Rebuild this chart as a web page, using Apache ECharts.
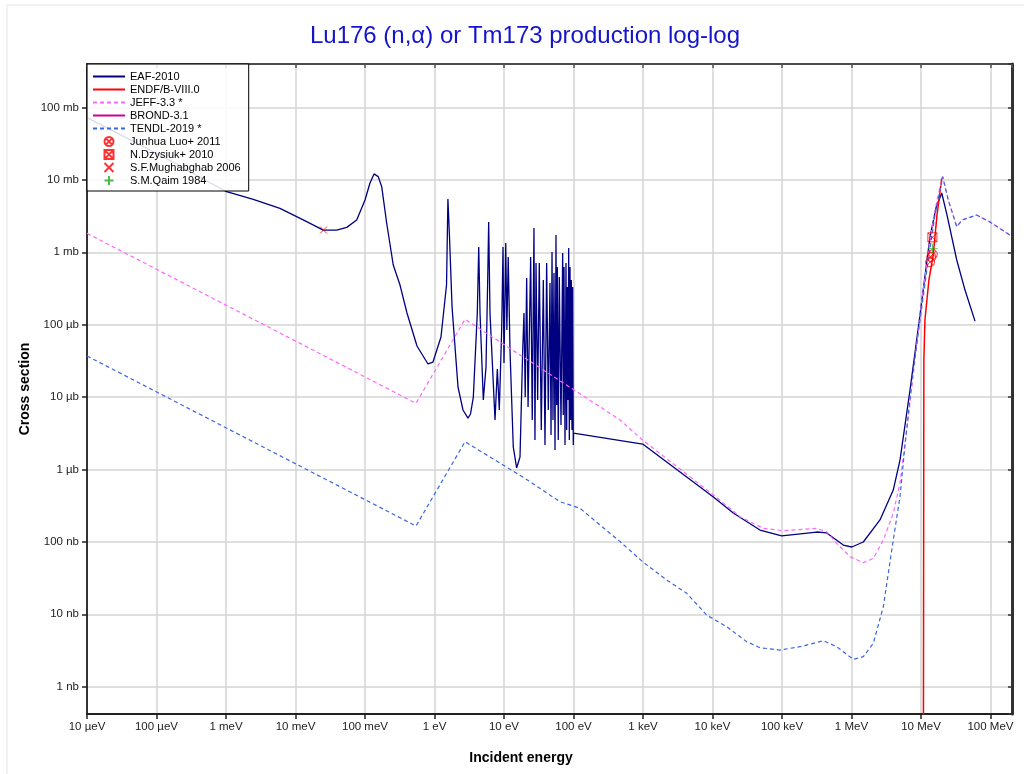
<!DOCTYPE html>
<html>
<head>
<meta charset="utf-8">
<script src="https://cdn.jsdelivr.net/npm/echarts@6/dist/echarts.min.js"></script>
<style>
html, body { margin: 0; padding: 0; background: #fff; }
#chart { width: 1024px; height: 774px; }
</style>
</head>
<body>
<div id="chart"></div>
<script>
// tick labels (x in eV decades from 1e-5, y in mb decades from 1e-6)
var xTickLabels = ['10 µeV', '100 µeV', '1 meV', '10 meV', '100 meV', '1 eV', '10 eV', '100 eV',
    '1 keV', '10 keV', '100 keV', '1 MeV', '10 MeV', '100 MeV'];
var yTickLabels = ['1 nb', '10 nb', '100 nb', '1 µb', '10 µb', '100 µb', '1 mb', '10 mb', '100 mb'];

// EAF-2010 : energy (eV), cross section (mb)
var eafEnergy = [
    1e-5, 1.12e-4, 1.02e-3, 2.47e-3, 5.98e-3, 0.01449, 0.0251, 0.0392, 0.0546, 0.0760,
    0.100, 0.118, 0.135, 0.155, 0.174, 0.205, 0.255, 0.319, 0.402, 0.560,
    0.806, 0.951, 1.24, 1.49,
    1.56, 1.64, 1.79, 2.18, 2.57, 3.03, 3.30, 3.62, 4.13, 4.33, 4.52, 5.04,
    5.51, 5.83, 6.02, 6.29, 7.43, 8.02, 8.56, 9.26, 9.68, 10.0,
    10.6, 11.0, 11.5, 12.2, 13.6, 15.2, 17.0, 18.6, 19.4, 20.2,
    21.2, 22.2,
    24.2, 25.5, 27.0, 27.9, 28.9, 30.5, 32.2, 34.4, 36.8, 38.9,
    41.1, 43.4, 45.9, 47.5, 49.1, 50.7, 52.4, 54.2, 56.0, 57.3,
    58.5, 60.4, 62.5, 66.1, 69.9, 71.3, 73.0, 75.5, 78.0, 79.8,
    81.4, 83.4, 85.3, 87.1, 89.1, 91.2, 93.0, 95.1, 97.3, 99.3,
    100,
    990, 1.03e4, 1.99e4, 4.82e4, 9.91e4, 3.16e5, 4.40e5, 7.62e5, 1.01e6, 1.48e6,
    2.57e6, 3.99e6, 4.99e6, 6.95e6, 9.46e6, 1.35e7, 1.64e7, 1.99e7, 2.37e7, 3.27e7,
    4.30e7, 5.99e7
];
var eafSigma = [
    72.5, 22.1, 6.87, 5.40, 4.05, 2.65, 2.03, 2.03, 2.21, 2.79,
    5.28, 9.06, 12.1, 11.1, 8.06, 2.54, 0.668, 0.353, 0.145, 0.0508,
    0.0287, 0.0305, 0.0676, 0.353,
    5.45, 1.73, 0.175, 0.0138, 0.00664, 0.00514, 0.00585, 0.0100, 0.145, 1.18, 0.145, 0.00912,
    0.0261, 0.414, 2.62, 0.145, 0.00483, 0.0244, 0.00664, 0.0845, 1.18, 0.0296,
    1.34, 0.0845, 0.861, 0.0448, 0.00205, 0.00105, 0.00149, 0.0448, 0.145, 0.0100,
    0.442, 0.00730,
    0.861, 0.00483, 2.17, 0.00255, 0.711, 0.00912, 0.711, 0.00351, 0.414, 0.00218,
    0.711, 0.00664, 0.377, 0.00299, 1.01, 0.00483, 0.518, 0.00186, 1.73, 0.00778,
    0.627, 0.00255, 0.456, 0.00412, 0.978, 0.00566, 0.627, 0.00218, 0.711, 0.00351,
    0.332, 0.00912, 1.15, 0.00255, 0.627, 0.00483, 0.414, 0.00351, 0.332, 0.00218,
    0.00319,
    0.00225, 4.17e-4, 2.51e-4, 1.46e-4, 1.21e-4, 1.37e-4, 1.33e-4, 9.06e-5, 8.51e-5, 9.98e-5,
    2.01e-4, 5.21e-4, 1.35e-3, 0.0125, 0.116, 1.63, 4.09, 6.59, 3.27, 0.783,
    0.301, 0.112
];

// ENDF/B-VIII.0
var endfEnergy = [1.08e7, 1.10e7, 1.14e7, 1.30e7, 1.50e7, 1.70e7, 1.99e7];
var endfSigma = [1e-8, 0.0325, 0.116, 0.414, 0.918, 3.27, 10.6];

// JEFF-3.3
var jeffEnergy = [
    1e-5, 0.542, 2.75, 240, 467, 990, 1.03e4, 2.49e4, 5.38e4, 1.04e5,
    3.16e5, 4.40e5, 6.13e5, 9.51e5, 1.48e6, 2.06e6, 2.87e6, 3.99e6, 4.99e6, 6.50e6,
    8.20e6, 1.03e7, 1.35e7, 1.70e7, 2.05e7, 2.47e7, 3.27e7, 3.89e7, 6.32e7, 9.84e7,
    2.0e8
];
var jeffSigma = [
    1.83, 0.00821, 0.119, 0.00737, 0.00483, 0.00255, 4.45e-4, 2.23e-4, 1.54e-4, 1.43e-4,
    1.54e-4, 1.38e-4, 9.57e-5, 6.25e-5, 5.16e-5, 5.93e-5, 1.06e-4, 2.48e-4, 6.51e-4, 0.00483,
    0.0325, 0.219, 1.48, 5.28, 11.1, 5.28, 2.26, 2.79, 3.27, 2.62,
    1.68
];

// BROND-3.1 (not visible in the plot)
var brondEnergy = [];
var brondSigma = [];

// TENDL-2019
var tendlEnergy = [
    1e-5, 0.542, 2.75, 20.0, 63.9, 124, 467, 990, 2.19e3, 4.26e3,
    8.26e3, 1.60e4, 3.10e4, 4.82e4, 9.35e4, 1.82e5, 3.93e5, 6.13e5, 1.06e6, 1.48e6,
    2.06e6, 2.87e6, 3.99e6, 4.99e6, 5.89e6, 7.43e6, 9.68e6, 1.26e7, 1.59e7, 2.05e7,
    2.47e7, 3.27e7, 3.89e7, 6.32e7, 9.84e7, 2.0e8
];
var tendlSigma = [
    0.0370, 1.66e-4, 2.42e-3, 7.56e-4, 3.59e-4, 2.91e-4, 1.01e-4, 5.33e-5, 2.98e-5, 1.95e-5,
    9.77e-6, 6.75e-6, 4.19e-6, 3.46e-6, 3.21e-6, 3.57e-6, 4.32e-6, 3.57e-6, 2.39e-6, 2.60e-6,
    3.97e-6, 1.27e-5, 1.06e-4, 4.21e-4, 2.18e-3, 0.0172, 0.116, 0.734, 3.27, 11.1,
    5.28, 2.26, 2.79, 3.27, 2.62, 1.68
];

// measurements
var luoEnergy = [1.35e7, 1.41e7, 1.48e7];
var luoSigma = [0.73, 0.86, 0.94];
var dzysiukEnergy = [1.46e7];
var dzysiukSigma = [1.61];
var mughabghabEnergy = [0.0253];
var mughabghabSigma = [2.03];
var qaimEnergy = [1.47e7];
var qaimSigma = [1.12];

function pairs(e, s) {
    return e.map(function (v, i) { return [v, s[i]]; });
}

var circleX = 'path://M-5,0A5,5,0,1,1,5,0A5,5,0,1,1,-5,0ZM-3.5,-3.5L3.5,3.5M-3.5,3.5L3.5,-3.5';
var squareX = 'path://M-5,-5L5,-5L5,5L-5,5ZM-5,-5L5,5M-5,5L5,-5';
var crossX = 'path://M-5,-5L5,5M-5,5L5,-5';
var plus = 'path://M-5,0L5,0M0,-5L0,5';

var font = 'Liberation Sans, Arial, sans-serif';
var xMin = 1e-5, xMax = 2.04e8, yMin = 4.2e-7, yMax = 399;

function lineSeries(name, e, s, color, width, dashed) {
    return {
        name: name, type: 'line', data: pairs(e, s),
        symbol: 'none', showSymbol: false,
        lineStyle: { color: color, width: width, type: dashed ? [4, 3] : 'solid' },
        itemStyle: { color: color },
        animation: false
    };
}
function pointSeries(name, e, s, symbol, size, color) {
    return {
        name: name, type: 'scatter', data: pairs(e, s),
        symbol: symbol, symbolSize: size, symbolKeepAspect: true,
        itemStyle: { color: 'rgba(0,0,0,0)', borderColor: color, borderWidth: 1 },
        z: 5, animation: false
    };
}

var chart = echarts.init(document.getElementById('chart'));

var option = {
    animation: false,
    textStyle: { fontFamily: font },
    title: {
        text: 'Lu176 (n,α) or Tm173 production log-log',
        left: 520, top: 19, textAlign: 'center',
        textStyle: { color: '#1414cc', fontSize: 24, fontWeight: 'normal', fontFamily: font }
    },
    grid: { left: 87, right: 12, top: 64, bottom: 60, containLabel: false, outerBoundsMode: 'none' },
    legend: {
        orient: 'vertical', left: 87, top: 64,
        padding: [7, 8, 5, 5],
        itemWidth: 32, itemHeight: 9, itemGap: 2,
        backgroundColor: 'rgba(255,255,255,0.85)',
        borderColor: '#000', borderWidth: 1, borderRadius: 0,
        textStyle: { fontSize: 11, lineHeight: 11, color: '#000', fontFamily: font },
        selectedMode: false,
        data: [
            { name: 'EAF-2010', itemStyle: { opacity: 0 } },
            { name: 'ENDF/B-VIII.0', itemStyle: { opacity: 0 } },
            { name: 'JEFF-3.3 *', itemStyle: { opacity: 0 } },
            { name: 'BROND-3.1', itemStyle: { opacity: 0 } },
            { name: 'TENDL-2019 *', itemStyle: { opacity: 0 } },
            'Junhua Luo+ 2011', 'N.Dzysiuk+ 2010', 'S.F.Mughabghab 2006', 'S.M.Qaim 1984'
        ]
    },
    xAxis: [{
        type: 'log', min: xMin, max: xMax, position: 'bottom', interval: 1,
        axisLine: { lineStyle: { color: '#222', width: 2 } },
        axisTick: { length: 5, interval: 0, lineStyle: { color: '#222', width: 1.5 } },
        axisLabel: {
            fontSize: 11.5, color: '#222', margin: 7, showMaxLabel: false, interval: 0,
            formatter: function (v) { return xTickLabels[Math.round(Math.log10(v)) + 5]; }
        },
        splitLine: { show: true, interval: 0, showMinLine: false, showMaxLine: false, lineStyle: { color: '#d4d4d4', width: 1.5 } },
        minorTick: { show: false }
    }, {
        type: 'log', min: xMin, max: xMax, position: 'top', interval: 1,
        axisLine: { lineStyle: { color: '#111', width: 1.5 } },
        axisTick: { inside: true, length: 4, interval: 0, lineStyle: { color: '#555', width: 1.5 } },
        axisLabel: { show: false },
        splitLine: { show: false }
    }],
    yAxis: [{
        type: 'log', min: yMin, max: yMax, position: 'left',
        axisLine: { lineStyle: { color: '#333', width: 2 } },
        axisTick: { length: 5, lineStyle: { color: '#222', width: 1.5 } },
        axisLabel: {
            fontSize: 11.5, color: '#222', margin: 8, showMinLabel: false, showMaxLabel: false,
            formatter: function (v) { return yTickLabels[Math.round(Math.log10(v)) + 6]; }
        },
        splitLine: { show: true, showMinLine: false, showMaxLine: false, lineStyle: { color: '#d4d4d4', width: 1.5 } }
    }, {
        type: 'log', min: yMin, max: yMax, position: 'right',
        axisLine: { lineStyle: { color: '#333', width: 3 } },
        axisTick: { inside: true, length: 4, lineStyle: { color: '#333', width: 1.5 } },
        axisLabel: { show: false },
        splitLine: { show: false }
    }],
    graphic: [
        { type: 'rect', shape: { x: 7, y: 5, width: 1030, height: 800 }, style: { fill: 'none', stroke: '#e4e4e4', lineWidth: 1 }, z: -1 },
        { type: 'text', x: 521, y: 758, style: { text: 'Incident energy', font: 'bold 14px ' + font, fill: '#000', textAlign: 'center', textVerticalAlign: 'middle' } },
        { type: 'text', x: 25, y: 389, rotation: Math.PI / 2, style: { text: 'Cross section', font: 'bold 14px ' + font, fill: '#000', textAlign: 'center', textVerticalAlign: 'middle' } }
    ],
    series: [
        lineSeries('EAF-2010', eafEnergy, eafSigma, '#000080', 1.3, false),
        lineSeries('ENDF/B-VIII.0', endfEnergy, endfSigma, '#ff0000', 1.5, false),
        lineSeries('JEFF-3.3 *', jeffEnergy, jeffSigma, '#ff66ff', 1.2, true),
        lineSeries('BROND-3.1', brondEnergy, brondSigma, '#cc0099', 1.5, false),
        lineSeries('TENDL-2019 *', tendlEnergy, tendlSigma, '#3a66e0', 1.2, true),
        pointSeries('Junhua Luo+ 2011', luoEnergy, luoSigma, circleX, 9, '#ff0000'),
        pointSeries('N.Dzysiuk+ 2010', dzysiukEnergy, dzysiukSigma, squareX, 9, '#ff0000'),
        pointSeries('S.F.Mughabghab 2006', mughabghabEnergy, mughabghabSigma, crossX, 7, '#ff0000'),
        pointSeries('S.M.Qaim 1984', qaimEnergy, qaimSigma, plus, 10, '#22aa22')
    ]
};

chart.setOption(option);
</script>
</body>
</html>
